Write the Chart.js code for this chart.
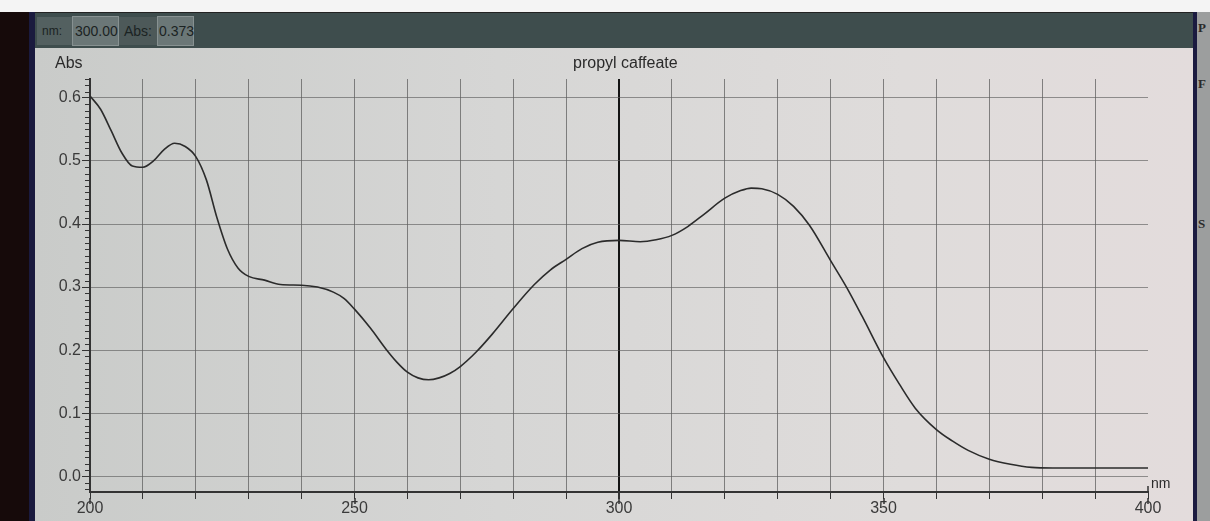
<!DOCTYPE html>
<html>
<head>
<meta charset="utf-8">
<script src="https://cdn.jsdelivr.net/npm/chart.js@4/dist/chart.umd.min.js"></script>
<style>
  body { margin: 0; width: 1210px; height: 521px; background: #f4f4f4; overflow: hidden; position: relative; font-family: "Liberation Sans", Arial, sans-serif; }
  .abs { position: absolute; }
  #frameLeft { left: 0; top: 12px; width: 29px; height: 509px; background: #160a0a; }
  #frameBlue { left: 29px; top: 12px; width: 6px; height: 509px; background: #1a1a3e; }
  #bar { left: 35px; top: 12px; width: 1158px; height: 36px; background: #3e4d4d; border-top: 1px solid #222; }
  #panel { left: 35px; top: 48px; width: 1158px; height: 473px; background: linear-gradient(90deg, #c9cbc9 0%, #d6d6d5 40%, #dfdcdb 75%, #e3dcdc 100%); }
  #rightEdge { left: 1193px; top: 12px; width: 4px; height: 509px; background: #1b1b40; }
  #rightPanel { left: 1197px; top: 12px; width: 13px; height: 509px; background: #9c9e9e; }
  .box { top: 17px; height: 28px; line-height: 28px; color: #1b2323; font-size: 14px; }
  .lbl { position: absolute; color: #2a2a2a; }
  canvas { position: absolute; left: 0; top: 0; }
</style>
</head>
<body>
<div class="abs" id="frameLeft"></div>
<div class="abs" id="frameBlue"></div>
<div class="abs" id="bar"></div>
<div class="abs box" style="left:37px;width:35px;background:#536060;font-size:12px;text-indent:5px;">nm:</div>
<div class="abs box" style="left:72px;width:45px;background:#6b7777;border:1px solid #879191;top:16px;text-indent:2px;">300.00</div>
<div class="abs box" style="left:119px;width:38px;background:#4d5959;text-indent:5px;">Abs:</div>
<div class="abs box" style="left:157px;width:35px;background:#6b7777;border:1px solid #879191;top:16px;text-indent:1px;">0.373</div>
<div class="abs" id="panel"></div>
<div class="abs" id="rightEdge"></div>
<div class="abs" id="rightPanel">
  <div class="lbl" style="left:1px;top:8px;font-size:13px;font-family:'Liberation Serif',serif;font-weight:bold;">P</div>
  <div class="lbl" style="left:1px;top:64px;font-size:13px;font-family:'Liberation Serif',serif;font-weight:bold;">F</div>
  <div class="lbl" style="left:1px;top:204px;font-size:13px;font-family:'Liberation Serif',serif;font-weight:bold;">S</div>
</div>

<canvas id="chart" width="1210" height="521"></canvas>

<div class="lbl" style="left:55px;top:54px;font-size:16px;">Abs</div>
<div class="lbl" style="left:573px;top:54px;font-size:16px;">propyl caffeate</div>
<div class="lbl" style="left:1151px;top:475px;font-size:14px;">nm</div>

<script>
// spectrum
var wavelengths = [200, 202, 204, 206, 208, 210, 212, 214, 216, 218, 220, 222, 224, 226, 228, 230, 233, 236, 240, 243, 246, 248,
  250, 253, 256, 258, 260, 262, 264, 266, 268, 270, 273, 276, 280, 284, 287, 290, 293, 296, 300, 304, 307, 310, 313, 316,
  320, 323, 325, 327, 330, 333, 336, 340, 343, 346, 350, 353, 356, 360, 363, 366, 370, 374, 378, 382, 386, 390, 395, 400];
var absorbance = [0.603, 0.582, 0.548, 0.513, 0.492, 0.490, 0.500, 0.518, 0.528, 0.523, 0.507, 0.470, 0.410, 0.360, 0.330, 0.317, 0.311, 0.304, 0.303, 0.300, 0.292, 0.282,
  0.265, 0.235, 0.201, 0.181, 0.165, 0.156, 0.153, 0.156, 0.163, 0.174, 0.197, 0.225, 0.266, 0.304, 0.327, 0.344, 0.361, 0.371, 0.374, 0.372, 0.375, 0.382, 0.396, 0.415,
  0.441, 0.453, 0.457, 0.456, 0.447, 0.428, 0.398, 0.342, 0.300, 0.253, 0.188, 0.146, 0.108, 0.074, 0.056, 0.041, 0.027, 0.019, 0.014, 0.013, 0.013, 0.013, 0.013, 0.013];

var nmTicks = [200, 210, 220, 230, 240, 250, 260, 270, 280, 290, 300, 310, 320, 330, 340, 350, 360, 370, 380, 390, 400];
var absTicks = [0, 0.1, 0.2, 0.3, 0.4, 0.5, 0.6];
var cursorNm = 300;

var tickFont = { family: "'Liberation Sans Narrow', 'Liberation Sans', Arial", size: 16 };

//Small ruler ticks on the Abs axis and longer ticks every 50 nm
var extraTicks = {
  id: 'extraTicks',
  afterDraw: function(chart) {
    var ctx = chart.ctx;
    var xs = chart.scales.x, ys = chart.scales.y;
    var left = chart.chartArea.left, bottom = chart.chartArea.bottom;
    ctx.save();
    ctx.strokeStyle = '#333';
    ctx.lineWidth = 1;
    for(var i = -2; i <= 63; i++) {
      if(i % 10 == 0) continue;
      var py = Math.round(ys.getPixelForValue(i / 100)) + 0.5;
      ctx.beginPath();
      ctx.moveTo(left - 5, py);
      ctx.lineTo(left, py);
      ctx.stroke();
    }
    ctx.lineWidth = 1.5;
    for(var n = 200; n <= 400; n += 50) {
      var px = Math.round(xs.getPixelForValue(n));
      ctx.beginPath();
      ctx.moveTo(px, bottom + 6);
      ctx.lineTo(px, bottom + 12);
      ctx.stroke();
    }
    // little upturn at the end of the nm axis
    var pe = xs.getPixelForValue(400);
    ctx.beginPath();
    ctx.moveTo(pe, bottom);
    ctx.lineTo(pe, bottom - 6);
    ctx.stroke();
    ctx.restore();
  }
};

new Chart(document.getElementById("chart"), {
  type: 'line',
  data: {
    datasets: [
      {
        label: "propyl caffeate",
        data: wavelengths.map(function(w, i) { return { x: w, y: absorbance[i] }; }),
        borderColor: "#2b2b2b",
        borderWidth: 1.6,
        pointRadius: 0,
        cubicInterpolationMode: 'monotone',
        fill: false
      }
    ]
  },
  options: {
    responsive: false,
    animation: false,
    devicePixelRatio: 1,
    layout: { padding: { top: 79, right: 62, bottom: 0, left: 0 } },
    plugins: { legend: { display: false }, tooltip: { enabled: false } },
    scales: {
      x: {
        type: 'linear',
        min: 200,
        max: 400,
        afterBuildTicks: function(scale) { scale.ticks = nmTicks.map(function(v) { return { value: v }; }); },
        afterFit: function(scale) { scale.height = 29; },
        grid: {
          color: function(c) {
            var v = c.tick ? c.tick.value : 0;
            if(v == 200 || v == 400) return 'rgba(0,0,0,0)';
            return v == cursorNm ? '#141414' : 'rgba(95,95,95,0.75)';
          },
          lineWidth: function(c) { return c.tick && c.tick.value == cursorNm ? 2 : 1; },
          tickColor: '#333',
          tickLength: 7
        },
        border: { color: '#333', width: 2 },
        ticks: {
          autoSkip: false,
          maxRotation: 0,
          padding: 0,
          color: '#3a3a3a',
          font: tickFont,
          callback: function(v) { return v % 50 == 0 ? v : ''; }
        }
      },
      y: {
        type: 'linear',
        min: -0.025,
        max: 0.63,
        afterBuildTicks: function(scale) { scale.ticks = absTicks.map(function(v) { return { value: v }; }); },
        afterFit: function(scale) { scale.width = 90; },
        grid: {
          color: 'rgba(95,95,95,0.65)',
          lineWidth: 1,
          tickColor: '#333',
          tickLength: 8
        },
        border: { color: '#333', width: 2 },
        ticks: {
          padding: 1,
          color: '#3a3a3a',
          font: tickFont,
          callback: function(v) { return v.toFixed(1); }
        }
      }
    }
  },
  plugins: [extraTicks]
});
</script>
</body>
</html>
